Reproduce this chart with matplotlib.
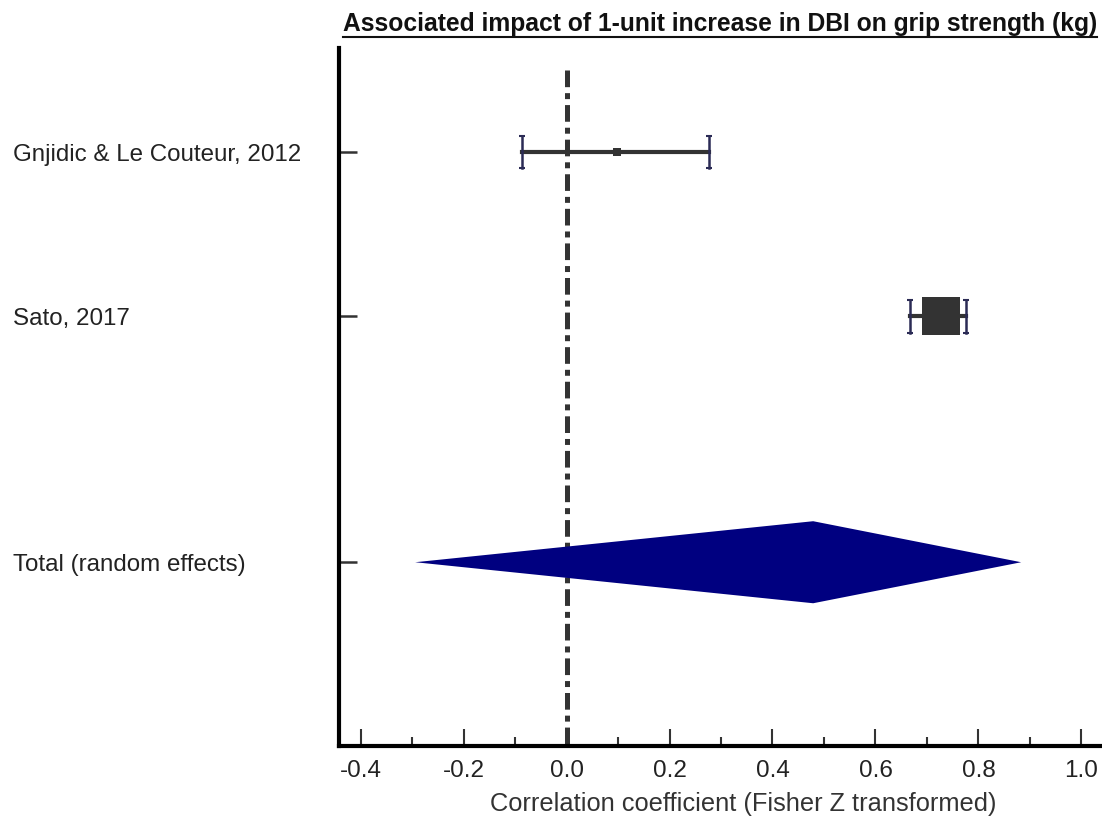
import matplotlib
matplotlib.use("Agg")
import matplotlib.pyplot as plt
from matplotlib.lines import Line2D
import numpy as np

plt.rcParams['font.family'] = ['Liberation Sans', 'DejaVu Sans']
plt.rcParams['lines.scale_dashes'] = False

studies = ["Gnjidic & Le Couteur, 2012", "Sato, 2017", "Total (random effects)"]
row_pos = [0, 1, 2.5]
estimates = [0.098, 0.727]
ci_low = [-0.087, 0.667]
ci_high = [0.277, 0.776]
weights_px = [8, 38]
pooled_est = 0.479
pooled_low = -0.294
pooled_high = 0.883

title = "Associated impact of 1-unit increase in DBI on grip strength (kg)"
xlabel = "Correlation coefficient (Fisher Z transformed)"
xticks = [-0.4, -0.2, 0.0, 0.2, 0.4, 0.6, 0.8, 1.0]
xticklabels = ["-0.4", "-0.2", "0.0", "0.2", "0.4", "0.6", "0.8", "1.0"]

W, H = 1102, 821
fig = plt.figure(figsize=(W / 100, H / 100), dpi=100)
ax = fig.add_axes([339 / W, 1 - 746 / H, (W - 339) / W, (746 - 48) / H])

dark = "#333333"
capc = "#2b2b55"

# reference line at zero
ax.plot([0, 0], [-0.5, 3.7], color=dark, lw=3.6,
        dashes=[12, 4.3, 4.3, 4.3], dash_capstyle='butt', zorder=1)

# individual studies
for i in range(len(estimates)):
    y = row_pos[i]
    ax.plot([ci_low[i], ci_high[i]], [y, y], color=dark, lw=3, zorder=2)
    for xc in (ci_low[i], ci_high[i]):
        ax.plot([xc, xc], [y - 0.1, y + 0.1], color=capc, lw=1.8, zorder=3)
        ax.plot([xc, xc], [y - 0.1, y + 0.1], ls='none', marker='_', markersize=5,
                markeredgewidth=1.5, color=capc, zorder=3)
    ax.plot([estimates[i]], [y], marker='s', color=dark, markersize=weights_px[i] * 0.72,
            markeredgewidth=0, zorder=4)

# pooled diamond
yp = row_pos[2]
ax.fill([pooled_low, pooled_est, pooled_high, pooled_est],
        [yp, yp - 0.25, yp, yp + 0.25], color="#000080", lw=0, zorder=3)

ax.set_xlim(-0.442, 1.04)
ax.set_ylim(3.62, -0.634)

ax.set_xticks(xticks)
ax.set_xticklabels(xticklabels, fontsize=17.5, color="#222222")
ax.set_xticks(np.array(xticks[:-1]) + 0.1, minor=True)
ax.tick_params(axis='x', which='major', direction='in', length=12, width=1.5,
               color=dark, pad=10)
ax.tick_params(axis='x', which='minor', direction='in', length=6.5, width=1.5, color=dark)

ax.set_yticks(row_pos)
ax.set_yticklabels(studies, fontsize=17.4, color="#222222")
ax.tick_params(axis='y', direction='in', length=13, width=1.8, color=dark, pad=235)
for lab in ax.get_yticklabels():
    lab.set_horizontalalignment('left')

ax.set_xlabel(xlabel, fontsize=18.3, color="#333333")
ax.xaxis.set_label_coords(0.53, -0.066)

for s in ("top", "right"):
    ax.spines[s].set_visible(False)
for s in ("left", "bottom"):
    ax.spines[s].set_linewidth(3)
    ax.spines[s].set_color("black")

t = fig.text(720 / W, 1 - 31 / H, title, fontsize=17.7, fontweight='bold',
             ha='center', va='baseline', color="#111111")
fig.canvas.draw()
bb = t.get_window_extent(fig.canvas.get_renderer())
yl = (bb.y0 - 1) / H
fig.add_artist(Line2D([bb.x0 / W, bb.x1 / W], [yl, yl], color="#111111", lw=1.5,
                      transform=fig.transFigure))

fig.savefig("out.png", dpi=100)
